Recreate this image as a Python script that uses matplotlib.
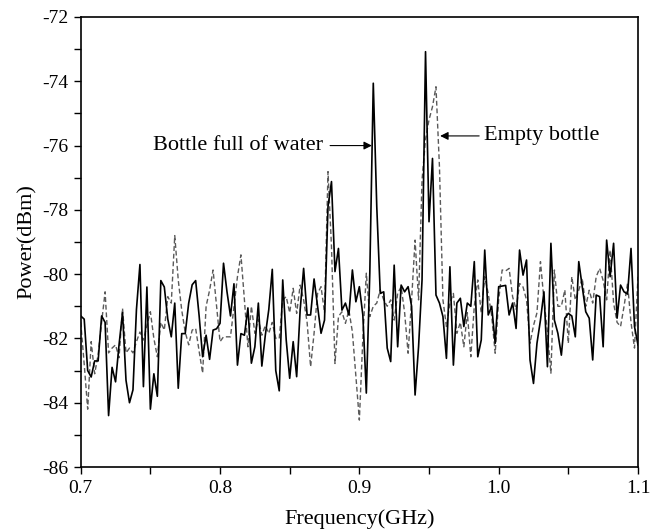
import numpy as np
import matplotlib
matplotlib.use("Agg")
import matplotlib.pyplot as plt
from matplotlib.ticker import MultipleLocator

plt.rcParams['font.family'] = ['Liberation Serif', 'DejaVu Serif']
plt.rcParams['axes.unicode_minus'] = False

# Frequency grid (GHz), 0.0025 GHz step
freq_start, freq_stop, n_pts = 0.7, 1.1, 161

water = [
    -81.3, -81.4, -83.0, -83.2, -82.7, -82.7, -81.3, -81.5, -84.4, -82.9,
    -83.35, -82.2, -81.2, -83.3, -84.0, -83.6, -81.1, -79.7, -83.5, -80.4,
    -84.2, -83.1, -83.8, -80.2, -80.4, -81.4, -81.95, -80.9, -83.55, -81.85,
    -81.85, -80.9, -80.33, -80.2, -81.3, -82.57, -81.9, -82.65, -81.74, -81.7,
    -81.53, -79.66, -80.55, -81.3, -80.3, -82.83, -81.85, -81.9, -81.05, -82.77,
    -82.26, -80.9, -82.86, -81.9, -81.1, -79.85, -83.0, -83.63, -80.18, -82.05,
    -83.24, -82.1, -83.19, -81.12, -79.82, -81.27, -81.27, -80.15, -81.0, -81.84,
    -81.43, -77.9, -77.12, -79.92, -79.2, -81.12, -80.9, -81.27, -79.87, -80.86,
    -80.39, -81.27, -83.7, -79.97, -74.06, -77.9, -80.6, -80.55, -82.3, -82.72,
    -79.72, -82.26, -80.34, -80.55, -80.39, -81.0, -83.76, -82.26, -80.18, -73.08,
    -78.37, -76.4, -80.65, -80.9, -81.32, -82.62, -79.77, -82.83, -80.9, -80.75,
    -81.63, -80.9, -81.0, -79.61, -82.57, -82.05, -79.25, -81.27, -81.0, -82.15,
    -80.39, -80.37, -80.35, -81.27, -80.9, -81.69, -79.25, -80.03, -79.56, -82.67,
    -83.4, -82.15, -81.43, -80.55, -82.88, -79.04, -81.43, -81.84, -82.52, -81.37,
    -81.22, -81.3, -81.95, -79.61, -80.39, -81.17, -81.37, -82.67, -80.65, -80.7,
    -82.26, -78.94, -80.08, -79.04, -81.37, -80.34, -80.55, -80.62, -79.2, -81.63,
    -82.2,
]

empty = [
    -81.5, -82.8, -84.2, -82.1, -83.1, -82.5, -81.5, -80.55, -82.45, -82.3,
    -82.2, -82.6, -81.06, -82.45, -82.3, -82.45, -82.1, -81.8, -82.05, -81.6,
    -81.17, -82.0, -82.57, -81.5, -81.74, -80.7, -80.9, -78.8, -80.18, -81.12,
    -81.8, -82.2, -81.74, -81.69, -82.4, -83.08, -81.0, -80.5, -79.87, -81.0,
    -82.1, -81.95, -81.95, -81.95, -81.0, -80.08, -79.4, -80.8, -82.26, -81.0,
    -81.84, -81.4, -81.9, -81.6, -81.84, -81.5, -82.0, -82.0, -80.8, -80.7,
    -81.2, -80.44, -81.22, -80.34, -80.8, -81.5, -82.88, -81.84, -80.6, -80.39,
    -81.2, -76.81, -79.15, -82.78, -81.32, -81.17, -81.53, -81.12, -81.8, -83.19,
    -84.54, -82.0, -79.97, -81.32, -81.0, -80.9, -80.49, -80.8, -81.0, -80.8,
    -81.43, -80.6, -80.39, -81.2, -82.46, -80.8, -78.94, -80.8, -77.07, -75.8,
    -75.2, -74.79, -74.17, -76.66, -80.8, -81.63, -80.9, -80.6, -81.84, -81.5,
    -82.26, -81.2, -82.57, -81.0, -80.18, -81.2, -80.08, -80.6, -81.3, -82.46,
    -80.8, -79.87, -79.9, -79.82, -80.7, -81.1, -80.29, -80.4, -80.8, -82.15,
    -81.6, -81.2, -79.61, -80.8, -81.8, -83.08, -79.87, -81.0, -81.0, -80.49,
    -82.15, -80.08, -80.8, -80.5, -80.13, -81.0, -80.5, -80.9, -80.08, -79.82,
    -80.2, -80.8, -79.25, -80.9, -81.5, -81.63, -81.0, -80.29, -81.5, -82.3,
    -80.08,
]

x_ticks = [0.7, 0.8, 0.9, 1.0, 1.1]
x_tick_labels = ["0.7", "0.8", "0.9", "1.0", "1.1"]
y_ticks = [-86, -84, -82, -80, -78, -76, -74, -72]

freq = np.linspace(freq_start, freq_stop, n_pts)

fig = plt.figure(figsize=(6.51, 5.31), dpi=100)
ax = fig.add_axes([0.124, 0.1205, 0.856, 0.8475])

ax.plot(freq, empty, color='#5a5a5a', lw=1.0, ls=(0, (3.5, 2.0)))
ax.plot(freq, water, color='black', lw=1.2)

ax.set_xlim(0.7, 1.1)
ax.set_ylim(-86, -72)
ax.set_xticks(x_ticks)
ax.set_xticklabels(x_tick_labels)
ax.set_yticks(y_ticks)
ax.xaxis.set_minor_locator(MultipleLocator(0.05))
ax.yaxis.set_minor_locator(MultipleLocator(1))
ax.tick_params(which='both', direction='out', top=False, right=False,
               labelsize=14, width=1.0)
ax.tick_params(which='major', length=5, pad=4)
ax.tick_params(which='minor', length=5)
for s in ax.spines.values():
    s.set_linewidth(1.2)

ax.set_xlabel("Frequency(GHz)", fontsize=16, labelpad=9)
ax.set_ylabel("Power(dBm)", fontsize=16, labelpad=4)

ax.annotate('', xy=(0.909, -76.0), xytext=(0.879, -76.0),
            arrowprops=dict(arrowstyle='-|>', color='black', lw=0.8,
                            mutation_scale=12, shrinkA=0, shrinkB=0))
ax.text(0.874, -76.0, "Bottle full of water", ha='right', va='center', fontsize=16)

ax.annotate('', xy=(0.958, -75.7), xytext=(0.986, -75.7),
            arrowprops=dict(arrowstyle='-|>', color='black', lw=0.8,
                            mutation_scale=12, shrinkA=0, shrinkB=0))
ax.text(0.9895, -75.7, "Empty bottle", ha='left', va='center', fontsize=16)

fig.savefig("out.png", dpi=100)
